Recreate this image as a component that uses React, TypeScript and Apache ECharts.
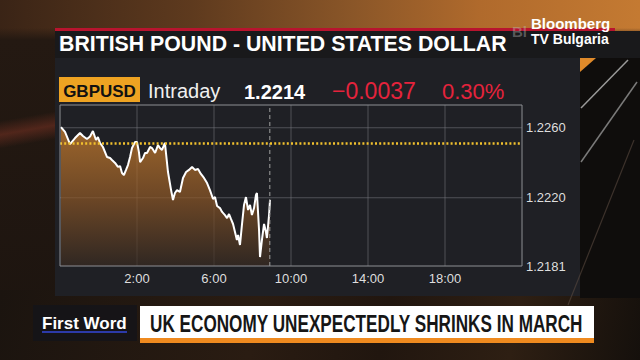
import React, { useEffect, useRef } from "react";
import * as echarts from "echarts";

// Hours since 22:00 of previous day
const hours = [
  0.05, 0.26, 0.52, 0.78, 1.04, 1.19, 1.4, 1.56, 1.71, 1.87, 1.97, 2.08, 2.23, 2.44, 2.6, 2.7, 2.86, 3.01,
  3.12, 3.22, 3.32, 3.43, 3.53, 3.64, 3.74, 3.9, 4.0, 4.1, 4.16, 4.31, 4.42, 4.52, 4.68, 4.78, 4.94, 5.09,
  5.19, 5.3, 5.45, 5.61, 5.77, 5.87, 5.97, 6.08, 6.23, 6.39, 6.55, 6.7, 6.86, 7.01, 7.17, 7.32, 7.48, 7.64,
  7.79, 7.95, 8.05, 8.16, 8.31, 8.42, 8.57, 8.68, 8.78, 8.88, 8.99, 9.09, 9.19, 9.25, 9.35, 9.45, 9.56,
  9.66, 9.77, 9.87, 9.97, 10.08, 10.18, 10.23, 10.34, 10.39, 10.49, 10.6, 10.7, 10.75, 10.86, 10.91,
];
const prices = [
  1.22604, 1.22576, 1.22507, 1.22541, 1.2257, 1.22553, 1.22536, 1.2255, 1.22581, 1.2253, 1.22547, 1.22513,
  1.2249, 1.22433, 1.22427, 1.22416, 1.22399, 1.22376, 1.22381, 1.22341, 1.2233, 1.22359, 1.22387, 1.22433,
  1.22484, 1.22519, 1.22519, 1.22461, 1.22404, 1.22427, 1.22456, 1.22456, 1.2249, 1.22484, 1.22456, 1.22501,
  1.22484, 1.22473, 1.22513, 1.22347, 1.22244, 1.22187, 1.22227, 1.22244, 1.22233, 1.22313, 1.22347, 1.22359,
  1.22376, 1.22359, 1.22364, 1.22336, 1.22313, 1.22284, 1.22244, 1.22193, 1.22204, 1.22153, 1.22141, 1.22119,
  1.22101, 1.22084, 1.22107, 1.22079, 1.2205, 1.22004, 1.21959, 1.21987, 1.2193, 1.22044, 1.22159, 1.22204,
  1.2213, 1.22159, 1.22101, 1.22141, 1.22216, 1.22227, 1.22016, 1.21861, 1.21959, 1.2205, 1.22004, 1.2197,
  1.22101, 1.22187,
];
const yTickValues = [1.2181, 1.222, 1.226];
const yGridValues = [1.222, 1.226];
const xGridHours = [4, 8, 12, 16, 20];
const previousClose = 1.2251;
const nowHour = 10.9;
const xMin = 0;
const xMax = 24;
const yMin = 1.2181;
const yMax = 1.2273;

const title = "BRITISH POUND - UNITED STATES DOLLAR";
const ticker = "GBPUSD";
const period = "Intraday";
const lastPrice = "1.2214";
const change = "\u22120.0037";
const changePct = "0.30%";
const headline = "UK ECONOMY UNEXPECTEDLY SHRINKS IN MARCH";
const segment = "First Word";

export default function App() {
  const ref = useRef<HTMLDivElement>(null);
  useEffect(() => {
    document.body.style.margin = "0";
    const chart = echarts.init(ref.current!, null, { renderer: "svg" });
    const data = hours.map((h, i) => [h, prices[i]]);
    const sans = "Liberation Sans, Arial, Helvetica, sans-serif";
    const refLine = (points: number[][], color: string, width: number, type: any, z: number) => ({
      type: "line",
      data: points,
      showSymbol: false,
      symbol: "none",
      silent: true,
      lineStyle: { color, width, type },
      z,
    });
    chart.setOption({
      animation: false,
      backgroundColor: "transparent",
      grid: {
        left: 60,
        top: 105,
        width: 462,
        height: 161,
        show: true,
        borderColor: "#8e8f94",
        borderWidth: 1,
        backgroundColor: "transparent",
        z: 5,
      },
      xAxis: {
        type: "value",
        min: xMin,
        max: xMax,
        interval: 4,
        axisLine: { show: false },
        axisTick: { show: false },
        splitLine: { show: false },
        axisLabel: {
          color: "#dedede",
          fontSize: 13,
          fontFamily: sans,
          margin: 6,
          formatter: (v: number) => (v === xMin || v === xMax ? "" : `${(v + 22) % 24}:00`),
        },
      },
      yAxis: {
        type: "value",
        position: "right",
        min: yMin,
        max: yMax,
        axisLine: { show: false },
        axisTick: { show: false },
        splitLine: { show: false },
        axisLabel: {
          customValues: yTickValues,
          color: "#dedede",
          fontSize: 13,
          fontFamily: sans,
          margin: 4,
          formatter: (v: number) => v.toFixed(4),
        },
      },
      series: [
        {
          type: "line",
          data,
          showSymbol: false,
          symbol: "none",
          lineStyle: { color: "#ffffff", width: 2 },
          areaStyle: {
            origin: "start",
            color: new echarts.graphic.LinearGradient(0, 0, 0, 1, [
              { offset: 0, color: "#d3842f" },
              { offset: 0.5, color: "#8f5826" },
              { offset: 1, color: "#372a21" },
            ]),
          },
          z: 2,
        },
        ...yGridValues.map((v) => refLine([[xMin, v], [xMax, v]], "rgba(120,122,130,0.55)", 1, "solid", 1)),
        ...xGridHours.map((h) => refLine([[h, yMin], [h, yMax]], "rgba(120,122,130,0.55)", 1, "solid", 1)),
        refLine([[nowHour, yMin], [nowHour, yMax]], "#a0a0a0", 1, [4, 3], 4),
        refLine([[xMin, previousClose], [xMax, previousClose]], "#f2c12e", 2.5, [2, 2.2], 4),
      ],
      graphic: [
        // panel body
        { type: "rect", z: -10, shape: { x: 55, y: 58, width: 525, height: 238 }, style: { fill: "#1f2025" } },
        // title bar
        { type: "rect", z: -9, shape: { x: 55, y: 31, width: 585, height: 27 }, style: { fill: "#19191b" } },
        { type: "rect", z: -9, shape: { x: 55, y: 28, width: 560, height: 3 }, style: { fill: "#b8142e" } },
        { type: "polygon", z: -8, shape: { points: [[580, 58], [596, 58], [580, 72]] }, style: { fill: "#e08a2a" } },
        // right decorative streaks
        { type: "line", z: -8, shape: { x1: 581, y1: 108, x2: 628, y2: 60 }, style: { stroke: "#bdbdbd", lineWidth: 1.5, opacity: 0.8 } },
        { type: "line", z: -8, shape: { x1: 581, y1: 162, x2: 637, y2: 82 }, style: { stroke: "#a8a8a8", lineWidth: 1.5, opacity: 0.7 } },
        { type: "line", z: -8, shape: { x1: 568, y1: 305, x2: 634, y2: 140 }, style: { stroke: "#5a4a40", lineWidth: 1.2, opacity: 0.6 } },
        {
          type: "text",
          z: 10,
          style: { text: title, x: 59, y: 44, fill: "#ffffff", font: `bold 21.3px ${sans}`, textVerticalAlign: "middle" },
        },
        // logo
        {
          type: "text",
          z: 10,
          style: { text: "Bl", x: 512, y: 31, fill: "#bfbfbf", opacity: 0.4, font: `bold 15px ${sans}`, textVerticalAlign: "middle" },
        },
        {
          type: "text",
          z: 11,
          style: { text: "Bloomberg", x: 531, y: 23.5, fill: "#ffffff", font: `bold 15px ${sans}`, textVerticalAlign: "middle" },
        },
        {
          type: "text",
          z: 11,
          style: { text: "TV Bulgaria", x: 531, y: 38.5, fill: "#ffffff", font: `bold 14px ${sans}`, textVerticalAlign: "middle" },
        },
        // header row
        { type: "rect", z: 9, shape: { x: 59, y: 77, width: 81, height: 25 }, style: { fill: "#eea322" } },
        {
          type: "text",
          z: 10,
          style: { text: ticker, x: 99.5, y: 91, fill: "#111111", font: `bold 17px ${sans}`, textAlign: "center", textVerticalAlign: "middle" },
        },
        {
          type: "text",
          z: 10,
          style: { text: period, x: 148, y: 91, fill: "#f0f0f0", font: `20px ${sans}`, textVerticalAlign: "middle" },
        },
        {
          type: "text",
          z: 10,
          style: { text: lastPrice, x: 244, y: 92, fill: "#ffffff", font: `bold 20px ${sans}`, textVerticalAlign: "middle" },
        },
        {
          type: "text",
          z: 10,
          style: { text: change, x: 332, y: 91, fill: "#e5233c", font: `23px ${sans}`, textVerticalAlign: "middle" },
        },
        {
          type: "text",
          z: 10,
          style: { text: changePct, x: 442, y: 91, fill: "#e5233c", font: `22px ${sans}`, textVerticalAlign: "middle" },
        },
        // lower third
        { type: "rect", z: -8, shape: { x: 33, y: 305, width: 104, height: 36 }, style: { fill: "#141419", opacity: 0.85 } },
        {
          type: "text",
          z: 10,
          style: { text: segment, x: 42, y: 323, fill: "#ffffff", font: `bold 17px ${sans}`, textVerticalAlign: "middle" },
        },
        { type: "rect", z: 10, shape: { x: 42, y: 331, width: 85, height: 2 }, style: { fill: "#2c3aa8" } },
        { type: "rect", z: 9, shape: { x: 140, y: 306, width: 454, height: 32 }, style: { fill: "#ffffff" } },
        { type: "rect", z: 9, shape: { x: 140, y: 338, width: 454, height: 5 }, style: { fill: "#ef8a1f" } },
        {
          type: "text",
          z: 10,
          x: 150,
          y: 323,
          scaleX: 0.715,
          style: {
            text: headline,
            x: 0,
            y: 0,
            fill: "#161616",
            font: `bold 24px ${sans}`,
            textVerticalAlign: "middle",
          },
        },
      ],
    });
    return () => chart.dispose();
  }, []);

  return (
    <div
      style={{
        position: "fixed",
        left: 0,
        top: 0,
        width: 640,
        height: 360,
        overflow: "hidden",
        background:
          "linear-gradient(180deg, rgba(0,0,0,0) 0px, rgba(0,0,0,0) 28px, #241912 40px, #1c140f 100%)," +
          "linear-gradient(90deg, #3a2416 0%, #5e3a1e 30%, #8a5628 55%, #b06a2c 75%, #c47a32 100%)",
      }}
    >
      <div
        style={{
          position: "absolute",
          left: 0,
          top: 100,
          width: 55,
          height: 60,
          background: "linear-gradient(170deg, rgba(0,0,0,0) 30%, rgba(120,50,35,0.55) 50%, rgba(0,0,0,0) 70%)",
        }}
      />
      <div
        style={{
          position: "absolute",
          left: 0,
          top: 290,
          width: 640,
          height: 70,
          background: "linear-gradient(100deg, #1b140f 0%, #2a1c12 40%, #21160f 60%, #2e1f13 80%, #15100c 100%)",
        }}
      />
      <div
        style={{
          position: "absolute",
          left: 580,
          top: 58,
          width: 60,
          height: 240,
          background: "#0f0d0c",
        }}
      />
      <div ref={ref} style={{ position: "absolute", left: 0, top: 0, width: 640, height: 360 }} />
    </div>
  );
}
